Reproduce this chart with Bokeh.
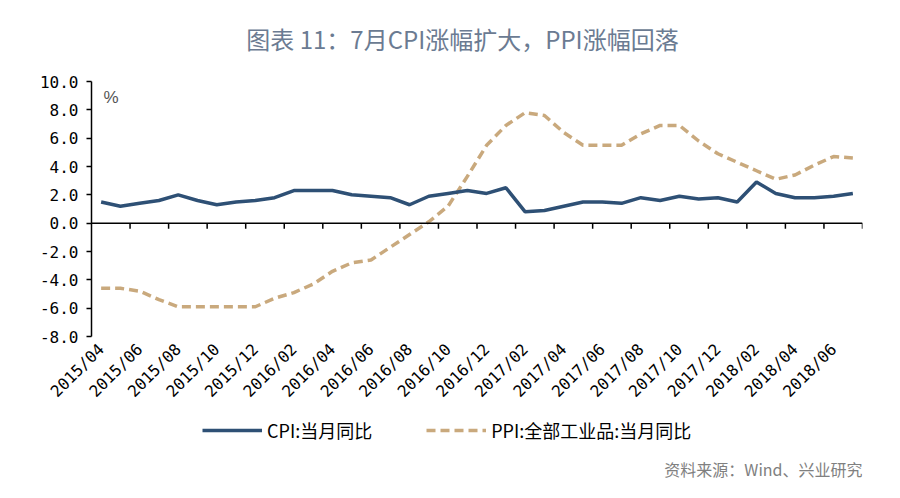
from math import pi
from bokeh.plotting import figure
from bokeh.layouts import column
from bokeh.models import (ColumnDataSource, Range1d, FixedTicker, NumeralTickFormatter,
                          Span, Label, Legend, LegendItem)
from bokeh.embed import file_html
from bokeh.resources import INLINE

months = [
    "2015/04", "2015/05", "2015/06", "2015/07", "2015/08", "2015/09", "2015/10", "2015/11", "2015/12",
    "2016/01", "2016/02", "2016/03", "2016/04", "2016/05", "2016/06", "2016/07", "2016/08", "2016/09",
    "2016/10", "2016/11", "2016/12", "2017/01", "2017/02", "2017/03", "2017/04", "2017/05", "2017/06",
    "2017/07", "2017/08", "2017/09", "2017/10", "2017/11", "2017/12", "2018/01", "2018/02", "2018/03",
    "2018/04", "2018/05", "2018/06", "2018/07",
]
cpi = [1.5, 1.2, 1.4, 1.6, 2.0, 1.6, 1.3, 1.5, 1.6,
       1.8, 2.3, 2.3, 2.3, 2.0, 1.9, 1.8, 1.3, 1.9,
       2.1, 2.3, 2.1, 2.5, 0.8, 0.9, 1.2, 1.5, 1.5,
       1.4, 1.8, 1.6, 1.9, 1.7, 1.8, 1.5, 2.9, 2.1,
       1.8, 1.8, 1.9, 2.1]
ppi = [-4.6, -4.6, -4.8, -5.4, -5.9, -5.9, -5.9, -5.9, -5.9,
       -5.3, -4.9, -4.3, -3.4, -2.8, -2.6, -1.7, -0.8, 0.1,
       1.2, 3.3, 5.5, 6.9, 7.8, 7.6, 6.4, 5.5, 5.5,
       5.5, 6.3, 6.9, 6.9, 5.8, 4.9, 4.3, 3.7, 3.1,
       3.4, 4.1, 4.7, 4.6]
y_ticks = [-8, -6, -4, -2, 0, 2, 4, 6, 8, 10]
cpi_name = "CPI:当月同比"
ppi_name = "PPI:全部工业品:当月同比"
title_text = "图表 11：7月CPI涨幅扩大，PPI涨幅回落"
source_text = "资料来源：Wind、兴业研究"
unit_text = "%"

CPI_COLOR = "#2e5075"
PPI_COLOR = "#c9a97d"
MONO = "DejaVu Sans Mono"
CJK = "Noto Sans CJK SC"
W = 896
H_HEAD = 69
H_MAIN = 341
H_FOOT = 84

idx = list(range(len(months)))
src = ColumnDataSource(data=dict(i=idx, m=months, cpi=cpi, ppi=ppi))


def blank_panel(height):
    fig = figure(width=W, height=height, output_backend="svg", toolbar_location=None,
                 x_axis_location=None, y_axis_location=None,
                 x_range=Range1d(-3, -2), y_range=Range1d(-30, -29),
                 min_border_left=0, min_border_right=0, min_border_top=0, min_border_bottom=0)
    fig.outline_line_color = None
    fig.grid.visible = False
    fig.border_fill_color = "white"
    fig.background_fill_color = "white"
    return fig


# header with title
h = blank_panel(H_HEAD)
h.add_layout(Label(x=371, y=31, x_units="screen", y_units="screen", text=title_text,
                   text_align="center", text_baseline="middle", text_font=CJK,
                   text_font_size="24px", text_color="#6b7b92"))

# main chart
p = figure(width=W, height=H_MAIN, output_backend="svg", toolbar_location=None,
           x_range=Range1d(-0.5, len(months) - 0.5),
           y_range=Range1d(y_ticks[0], y_ticks[-1]),
           min_border_left=91, min_border_right=34, min_border_top=12, min_border_bottom=72)
p.outline_line_color = None
p.grid.visible = False
p.background_fill_color = "white"
p.border_fill_color = "white"

p.yaxis.ticker = FixedTicker(ticks=y_ticks)
p.yaxis.formatter = NumeralTickFormatter(format="0.0")
p.yaxis.axis_line_color = "black"
p.yaxis.axis_line_width = 1.5
p.yaxis.major_tick_line_color = "black"
p.yaxis.major_tick_line_width = 1.5
p.yaxis.major_tick_out = 5
p.yaxis.major_tick_in = 0
p.yaxis.minor_tick_line_color = None
p.yaxis.major_label_text_font = MONO
p.yaxis.major_label_text_font_size = "16px"
p.yaxis.major_label_text_color = "black"
p.yaxis.major_label_standoff = 8

p.xaxis.ticker = FixedTicker(ticks=idx[::2])
p.xaxis.major_label_overrides = {float(i): months[i] for i in idx[::2]}
p.xaxis.axis_line_color = None
p.xaxis.major_tick_line_color = None
p.xaxis.major_tick_out = 0
p.xaxis.major_tick_in = 0
p.xaxis.minor_tick_line_color = None
p.xaxis.major_label_orientation = pi / 4
p.xaxis.major_label_text_font = MONO
p.xaxis.major_label_text_font_size = "16px"
p.xaxis.major_label_text_color = "black"
p.xaxis.major_label_standoff = 10

# zero line with boundary ticks
p.add_layout(Span(location=0, dimension="width", line_color="black", line_width=1.5))
bounds = [i + 0.5 for i in idx[1::2]]
tick_src = ColumnDataSource(data=dict(x=bounds, y0=[0] * len(bounds), y1=[-0.4] * len(bounds)))
p.segment(x0="x", y0="y0", x1="x", y1="y1", source=tick_src, line_color="black", line_width=1.5)

line_styles = {
    "cpi": dict(line_color=CPI_COLOR, line_width=3.5),
    "ppi": dict(line_color=PPI_COLOR, line_width=3.5, line_dash="9 5"),
}
p.line("i", "ppi", source=src, **line_styles["ppi"])
p.line("i", "cpi", source=src, **line_styles["cpi"])

p.add_layout(Label(x=12, y=239, x_units="screen", y_units="screen", text=unit_text,
                   text_align="left", text_baseline="middle", text_font="Liberation Sans",
                   text_font_size="17px", text_color="#555555"))

# footer: legend + source note (series kept out of this panel's view; only the legend shows)
f = blank_panel(H_FOOT)
lc = f.line("i", "cpi", source=src, **line_styles["cpi"])
lp = f.line("i", "ppi", source=src, **line_styles["ppi"])
lg = Legend(items=[LegendItem(label=cpi_name, renderers=[lc]),
                   LegendItem(label=ppi_name, renderers=[lp])],
            location=(111, 51), orientation="horizontal", glyph_width=60, glyph_height=20,
            label_standoff=5, spacing=54, padding=0, margin=0,
            border_line_color=None, background_fill_alpha=0,
            label_text_font=CJK, label_text_font_size="18px", label_text_color="black")
f.add_layout(lg)
f.add_layout(Label(x=771, y=26, x_units="screen", y_units="screen", text=source_text,
                   text_align="right", text_baseline="middle", text_font=CJK,
                   text_font_size="16px", text_color="#808080"))

open("out.html", "w").write(file_html(column(h, p, f, spacing=0), INLINE))
